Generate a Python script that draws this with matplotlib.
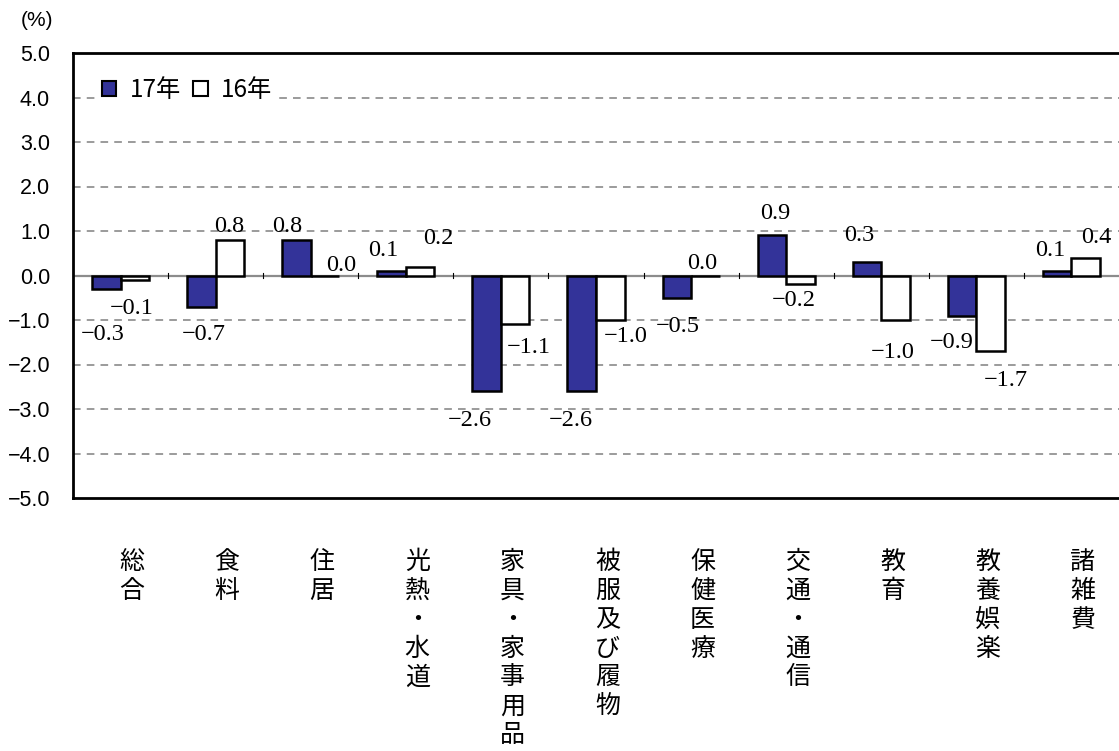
import matplotlib
matplotlib.use("Agg")
import matplotlib.pyplot as plt
from matplotlib.patches import Patch

plt.rcParams['font.family'] = ['Noto Sans CJK JP', 'DejaVu Sans']

categories = ["総合", "食料", "住居", "光熱・水道", "家具・家事用品", "被服及び履物",
              "保健医療", "交通・通信", "教育", "教養娯楽", "諸雑費"]
vals_17 = [-0.3, -0.7, 0.8, 0.1, -2.6, -2.6, -0.5, 0.9, 0.3, -0.9, 0.1]
vals_16 = [-0.1, 0.8, 0.0, 0.2, -1.1, -1.0, 0.0, -0.2, -1.0, -1.7, 0.4]
series_names = ["17年", "16年"]
yticks = [5, 4, 3, 2, 1, 0, -1, -2, -3, -4, -5]

# label offsets from the bar end, in pixels (dx, dy; dy positive = down)
off_17 = [(-4, 46), (2, 28), (-9, -13), (-8, -21), (-17, 29), (-11, 29),
          (1, 29), (3, -22), (-8, -27), (-10, 27), (-7, -21)]
off_16 = [(-3, 29), (-1, -13), (16, -10), (18, -28), (14, 23), (15, 17),
          (-3, -12), (-7, 16), (-3, 32), (15, 29), (11, -20)]

fig = plt.figure(figsize=(11.19, 7.51), dpi=100)
ax = fig.add_axes([73 / 1119, 1 - 498 / 751, 1 - 73 / 1119, 445 / 751])

x = list(range(len(categories)))
w = 0.3
blue = "#333399"
ax.bar([i - w / 2 for i in x], vals_17, width=w, color=blue, edgecolor="black", linewidth=1.8, zorder=3)
ax.bar([i + w / 2 for i in x], vals_16, width=w, color="white", edgecolor="black", linewidth=1.8, zorder=3)

for i in x:
    for v, xc, off in ((vals_17[i], i - w / 2, off_17[i]), (vals_16[i], i + w / 2, off_16[i])):
        txt = "{:.1f}".format(v).replace("-", "\u2212")
        if txt == "\u22120.0":
            txt = "0.0"
        ax.annotate(txt, xy=(xc, v), xytext=(off[0], -off[1]), textcoords="offset pixels",
                    ha="center", va="center", fontsize=17.5, family="Liberation Serif", zorder=4)

# grid
for t in yticks[1:-1]:
    ax.axhline(t, color="#808080", linestyle=(0, (5, 4)), linewidth=1.1, zorder=1)
ax.axhline(0, color="#8c8c8c", linewidth=1.6, zorder=2)
for b in range(len(categories) - 1):
    ax.plot([b + 0.5, b + 0.5], [-0.06, 0.06], color="black", linewidth=0.8, zorder=2)

ax.set_xlim(-0.5, 10.5)
ax.set_ylim(-5, 5)
ax.set_yticks(yticks)
ax.set_yticklabels(["{:.1f}".format(t).replace("-", "\u2212") for t in yticks],
                   family="Liberation Sans", fontsize=15.5)
ax.tick_params(axis="y", length=0, pad=16.5)
ax.set_xticks([])
for s in ("left", "top", "bottom"):
    ax.spines[s].set_linewidth(2)
    ax.spines[s].set_color("black")
ax.spines["right"].set_visible(False)

for i, c in enumerate(categories):
    ax.text(i + 0.12, -0.115, "\n".join(c), transform=ax.get_xaxis_transform(),
            ha="center", va="top", fontsize=18, linespacing=1.14)

fig.text(37 / 1119, 1 - 20 / 751, "(%)", ha="center", va="center", fontsize=15,
         family="Liberation Sans")

handles = [Patch(facecolor=blue, edgecolor="black", linewidth=1.5),
           Patch(facecolor="white", edgecolor="black", linewidth=1.5)]
leg = ax.legend(handles, series_names, ncol=2, loc="center left",
                bbox_to_anchor=(24 / 1046, 1 - (90 - 53) / 445), frameon=True,
                handlelength=0.6, handleheight=0.6, handletextpad=0.55,
                columnspacing=0.5, borderpad=0.2, borderaxespad=0,
                prop={"family": ["Noto Sans CJK JP"], "size": 17.5})
leg.get_frame().set_facecolor("white")
leg.get_frame().set_edgecolor("none")
leg.get_frame().set_alpha(1)
leg.set_zorder(5)

fig.savefig("out.png", dpi=100)
